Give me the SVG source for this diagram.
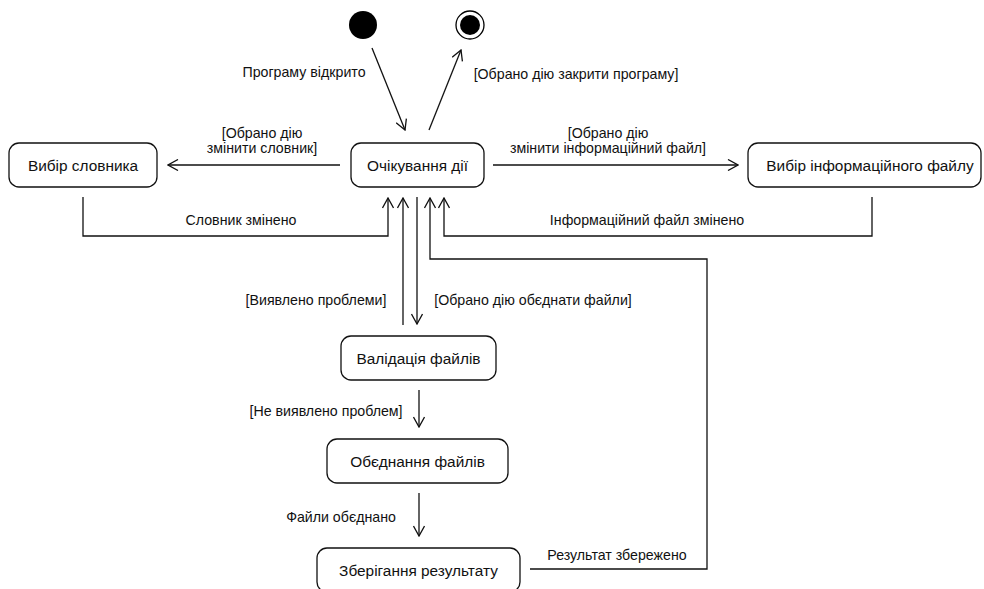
<svg xmlns="http://www.w3.org/2000/svg" width="984" height="589" viewBox="0 0 984 589">
<style>
.box{fill:#fff;stroke:#111;stroke-width:1.3}
.nt{font-family:"Liberation Sans",Arial,Helvetica,sans-serif;font-size:15.4px;fill:#111;text-anchor:middle;dominant-baseline:central}
.lt{font-family:"Liberation Sans",Arial,Helvetica,sans-serif;font-size:14.2px;fill:#111;text-anchor:middle;dominant-baseline:central}
.c{fill:none;stroke:#111;stroke-width:1.3}
</style>
<defs>
<marker id="arr" viewBox="0 0 12 12" refX="11" refY="6" markerWidth="12" markerHeight="12" markerUnits="userSpaceOnUse" orient="auto">
<path d="M1,0.5 L11,6 L1,11.5" fill="none" stroke="#111" stroke-width="1.3"/>
</marker>
</defs>
<rect width="984" height="589" fill="#fff"/>
<g id="connectors">
<line class="c" x1="372" y1="48" x2="405" y2="130" marker-end="url(#arr)"/>
<line class="c" x1="429" y1="130" x2="461" y2="50" marker-end="url(#arr)"/>
<line class="c" x1="340" y1="165" x2="168" y2="165" marker-end="url(#arr)"/>
<line class="c" x1="493" y1="165" x2="738" y2="165" marker-end="url(#arr)"/>
<path class="c" d="M83,197 V236 H388 V198" marker-end="url(#arr)"/>
<path class="c" d="M872,197 V236 H444 V198" marker-end="url(#arr)"/>
<path class="c" d="M403,325 V198" marker-end="url(#arr)"/>
<path class="c" d="M417,197 V324" marker-end="url(#arr)"/>
<path class="c" d="M419,390 V427" marker-end="url(#arr)"/>
<path class="c" d="M419,493 V536" marker-end="url(#arr)"/>
<path class="c" d="M530,569 H707 V259 H430 V198" marker-end="url(#arr)"/>
<text class="lt" x="304" y="72">Програму відкрито</text>
<text class="lt" x="576" y="74">[Обрано дію закрити програму]</text>
<text class="lt" x="262" y="133">[Обрано дію</text>
<text class="lt" x="262" y="148">змінити словник]</text>
<text class="lt" x="608" y="133">[Обрано дію</text>
<text class="lt" x="608" y="148">змінити інформаційний файл]</text>
<text class="lt" x="241" y="220">Словник змінено</text>
<text class="lt" x="647" y="220">Інформаційний файл змінено</text>
<text class="lt" x="316" y="300">[Виявлено проблеми]</text>
<text class="lt" x="533" y="300">[Обрано дію обєднати файли]</text>
<text class="lt" x="326" y="411">[Не виявлено проблем]</text>
<text class="lt" x="341" y="517">Файли обєднано</text>
<text class="lt" x="617" y="555">Результат збережено</text>
</g>
<g id="start"><circle cx="363" cy="25" r="14" fill="#000"/></g>
<g id="end"><circle cx="470" cy="25" r="14" fill="#fff" stroke="#000" stroke-width="1.3"/><circle cx="470" cy="25" r="10" fill="#000"/></g>
<g id="wait"><rect class="box" x="351" y="143" width="133" height="44" rx="10"/><text class="nt" x="417.5" y="165">Очікування дії</text></g>
<g id="dict"><rect class="box" x="9" y="143" width="148" height="44" rx="10"/><text class="nt" x="83" y="165">Вибір словника</text></g>
<g id="info"><rect class="box" x="748" y="143" width="233" height="44" rx="10"/><text class="nt" x="870" y="165">Вибір інформаційного файлу</text></g>
<g id="valid"><rect class="box" x="341" y="336" width="155" height="44" rx="10"/><text class="nt" x="418.5" y="358">Валідація файлів</text></g>
<g id="merge"><rect class="box" x="327" y="439" width="181" height="44" rx="10"/><text class="nt" x="417.5" y="461">Обєднання файлів</text></g>
<g id="save"><rect class="box" x="317" y="548" width="203" height="44" rx="10"/><text class="nt" x="418.5" y="570">Зберігання результату</text></g>
</svg>
